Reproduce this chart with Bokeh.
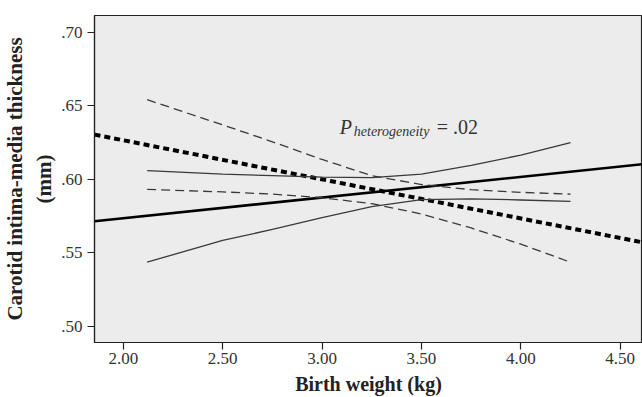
from bokeh.plotting import figure
from bokeh.models import Range1d, FixedTicker, Label
from bokeh.embed import file_html
from bokeh.resources import INLINE

# ---- data ----
fit_x = [1.855, 4.612]
solid_fit = [0.5716, 0.6103]
dashed_fit = [0.6304, 0.5572]

ci_x = [2.12, 2.50, 2.75, 3.00, 3.25, 3.50, 3.75, 4.00, 4.25]
solid_upper = [0.6060, 0.6035, 0.6025, 0.6015, 0.6012, 0.6035, 0.6095, 0.6165, 0.6250]
solid_lower = [0.5438, 0.5585, 0.5660, 0.5740, 0.5815, 0.5862, 0.5868, 0.5860, 0.5850]
dashed_upper = [0.6541, 0.6370, 0.6255, 0.6135, 0.6025, 0.5965, 0.5930, 0.5912, 0.5900]
dashed_lower = [0.5932, 0.5915, 0.5900, 0.5875, 0.5835, 0.5765, 0.5670, 0.5560, 0.5437]

xtick_values = [2.0, 2.5, 3.0, 3.5, 4.0, 4.5]
xtick_labels = ["2.00", "2.50", "3.00", "3.50", "4.00", "4.50"]
ytick_values = [0.50, 0.55, 0.60, 0.65, 0.70]
ytick_labels = [".50", ".55", ".60", ".65", ".70"]

annot_x = 3.089
annot_y = 0.6356

SERIF = "Liberation Serif"
AX = "#222222"
X0, X1 = 1.855, 4.612
Y0, Y1 = 0.4892, 0.7113

p = figure(width=642, height=397, output_backend="svg", toolbar_location=None,
           x_range=Range1d(X0, X1), y_range=Range1d(Y0, Y1),
           min_border_left=88, min_border_right=0, min_border_top=15, min_border_bottom=54,
           background_fill_color="#ececec", border_fill_color="white",
           outline_line_color=AX, outline_line_width=1.2)
p.grid.visible = False

p.xaxis.ticker = FixedTicker(ticks=xtick_values)
p.xaxis.major_label_overrides = dict(zip(xtick_values, xtick_labels))
p.yaxis.ticker = FixedTicker(ticks=ytick_values)
p.yaxis.major_label_overrides = dict(zip(ytick_values, ytick_labels))

# paint the axes on the overlay layer, after the glyphs
p.xaxis.level = "overlay"
p.yaxis.level = "overlay"

p.axis.axis_line_color = AX
p.axis.axis_line_width = 1.2
p.axis.major_tick_line_color = AX
p.axis.major_tick_line_width = 1.2
p.axis.major_tick_out = 7
p.axis.major_tick_in = 0
p.axis.minor_tick_line_color = None
p.axis.major_label_text_font = SERIF
p.axis.major_label_text_font_size = "17px"
p.axis.major_label_text_color = "#333333"
p.axis.axis_label_text_font = SERIF
p.axis.axis_label_text_font_style = "bold"
p.axis.axis_label_text_color = "#222222"
p.xaxis.axis_label_text_font_size = "20px"
p.yaxis.axis_label_text_font_size = "21px"

p.xaxis.axis_label = "Birth weight (kg)"
p.yaxis.axis_label = "Carotid intima-media thickness\n(mm)"
p.xaxis.major_label_standoff = 3
p.yaxis.major_label_standoff = 5
p.xaxis.axis_label_standoff = 6
p.yaxis.axis_label_standoff = 2

# regression lines
p.line(fit_x, solid_fit, line_color="black", line_width=2.6)
p.line(fit_x, dashed_fit, line_color="black", line_width=4, line_dash="6 4")

# confidence bands
p.line(ci_x, solid_upper, line_color="#3a3a3a", line_width=1.3)
p.line(ci_x, solid_lower, line_color="#3a3a3a", line_width=1.3)
p.line(ci_x, dashed_upper, line_color="#3a3a3a", line_width=1.3, line_dash="9 5")
p.line(ci_x, dashed_lower, line_color="#3a3a3a", line_width=1.3, line_dash="9 5")

# annotation
p.add_layout(Label(x=annot_x, y=annot_y, text="P", text_font=SERIF, text_font_style="italic",
                   text_font_size="20px", text_color="#333333", text_baseline="alphabetic"))
p.add_layout(Label(x=annot_x, y=annot_y, text="heterogeneity", x_offset=14, y_offset=-5,
                   text_font=SERIF, text_font_style="italic", text_font_size="14px",
                   text_color="#333333", text_baseline="alphabetic"))
p.add_layout(Label(x=annot_x, y=annot_y, text="= .02", x_offset=97,
                   text_font=SERIF, text_font_size="20px", text_color="#333333",
                   text_baseline="alphabetic"))

open("out.html", "w").write(file_html(p, INLINE))
